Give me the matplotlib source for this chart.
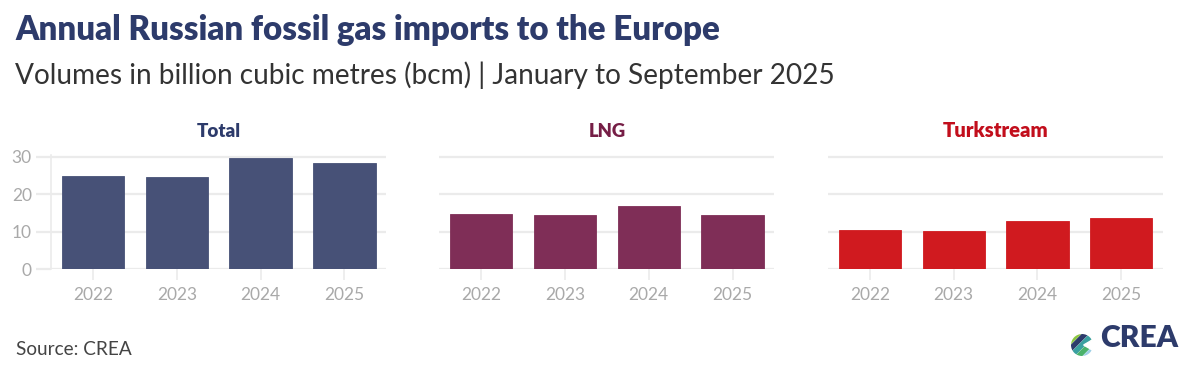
import matplotlib
matplotlib.use("Agg")
import matplotlib.pyplot as plt
from matplotlib.patches import Circle, Polygon
import numpy as np

plt.rcParams['font.family'] = ['Lato', 'DejaVu Sans']

# ---- data ----
years = ["2022", "2023", "2024", "2025"]
total = [25.0, 24.6, 29.8, 28.4]
lng = [14.7, 14.5, 16.8, 14.5]
turkstream = [10.4, 10.1, 12.9, 13.8]
panel_titles = ["Total", "LNG", "Turkstream"]
title = "Annual Russian fossil gas imports to the Europe"
subtitle = "Volumes in billion cubic metres (bcm) | January to September 2025"
source = "Source: CREA"
yticks = [0, 10, 20, 30]

# ---- style ----
bar_colors = ["#475177", "#7F2E57", "#D01A1F"]
title_colors = ["#2D3B6B", "#761E46", "#C20E1C"]
grid_col = "#EBEBEB"
tick_col = "#A9A9A9"

W, H = 1199, 382
fig = plt.figure(figsize=(W / 100, H / 100), dpi=100)
fig.patch.set_facecolor("white")

def px(x0, y0_top, w, h):
    return [x0 / W, (H - y0_top - h) / H, w / W, h / H]

renderer = fig.canvas.get_renderer()

def fit(t, target_w):
    bb = t.get_window_extent(renderer=renderer)
    t.set_fontsize(t.get_fontsize() * target_w / bb.width)

def ftext(x, y_top, s, target_w, **kw):
    t = fig.text(x / W, 1 - y_top / H, s, **kw)
    fit(t, target_w)
    return t

ymax = 30.6
unit = 3.75  # px per bcm
y0 = 269.3
ax_h = ymax * unit
lefts = [51.2, 439.4, 828.1]
ax_w = 335.0
series = [total, lng, turkstream]
for i, (vals, left) in enumerate(zip(series, lefts)):
    ax = fig.add_axes(px(left, y0 - ax_h, ax_w, ax_h))
    x = np.arange(len(years))
    ax.bar(x, vals, width=0.745, color=bar_colors[i], zorder=3,
           edgecolor=bar_colors[i], linewidth=0.6)
    ax.set_xlim(-0.5, len(years) - 0.5)
    ax.set_ylim(0, ymax)
    ax.set_yticks(yticks)
    ax.set_xticks(x)
    ax.set_xticklabels(years)
    ax.grid(axis="y", color=grid_col, linewidth=1.6, zorder=0)
    ax.set_axisbelow(True)
    for s in ["top", "right", "bottom"]:
        ax.spines[s].set_visible(False)
    ax.tick_params(axis="x", length=8, width=1.2, color=grid_col, pad=5,
                   labelsize=12.5, labelcolor=tick_col)
    if i == 0:
        ax.spines["left"].set_color(grid_col)
        ax.spines["left"].set_linewidth(1.2)
        ax.tick_params(axis="y", length=11, width=1.6, color=grid_col, pad=3,
                       labelsize=12.5, labelcolor=tick_col)
    else:
        ax.spines["left"].set_visible(False)
        ax.tick_params(axis="y", length=0, labelleft=False)
    ax.set_facecolor("none")
    cx = left + ax_w / 2
    ftext(cx, 136.7, panel_titles[i], {0: 44, 1: 37, 2: 106}[i],
          ha="center", va="baseline", fontweight="heavy",
          color=title_colors[i], fontsize=13)

ftext(15, 39.5, title, 703, ha="left", va="baseline", fontweight="heavy",
      color="#2D3B6B", fontsize=22)
ftext(15, 84.3, subtitle, 821, ha="left", va="baseline", color="#333333",
      fontsize=20)
ftext(16.5, 355, source, 115, ha="left", va="baseline", color="#444444",
      fontsize=13)

# logo
ftext(1100, 347.3, "CREA", 78, ha="left", va="baseline", fontweight="heavy",
      color="#2D3B6B", fontsize=16)
lax = fig.add_axes(px(1071, 334, 22, 22))
lax.set_xlim(-1, 1)
lax.set_ylim(-1, 1)
lax.set_aspect("equal")
lax.axis("off")
clip = Circle((0, 0), 1.0, transform=lax.transData)
stripe_cols = ["#8CC63F", "#2D3B6B", "#3AA0A0", "#4BB26B", "#9ED0E6"]
offs = [-1.0, -0.5, 0.0, 0.5, 1.0]
for c, o in zip(stripe_cols, offs):
    xs = np.array([-1.5, 1.5])
    ln, = lax.plot(xs + o * 0.7, xs - o * 0.7, color=c, linewidth=3.8,
                   solid_capstyle="butt")
    ln.set_clip_path(clip)
lax.add_patch(Polygon([[0.15, 0.0], [1.1, 0.55], [1.1, -0.55]],
                      closed=True, color="white", zorder=5))

fig.savefig("out.png", dpi=100, facecolor="white")
